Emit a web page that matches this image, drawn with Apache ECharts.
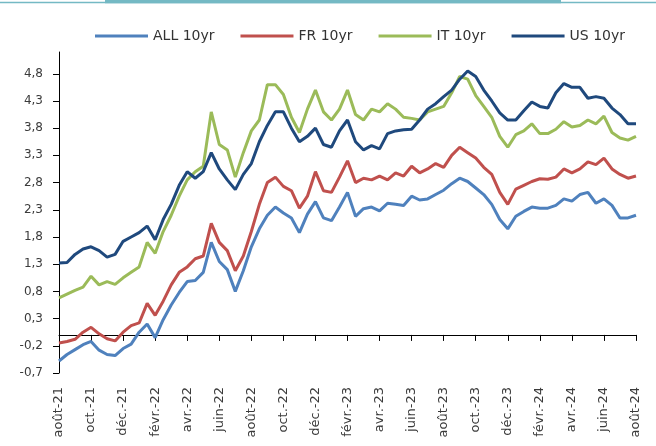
<!DOCTYPE html>
<html>
<head>
<meta charset="utf-8">
<script src="https://cdn.jsdelivr.net/npm/echarts@6/dist/echarts.min.js"></script>
<style>
  html, body { margin: 0; padding: 0; background: #fff; }
  #chart { width: 656px; height: 446px; }
</style>
</head>
<body>
<div id="chart"></div>
<script>
// tick labels of the date axis, one every 2 months from août-21
const monthLabels = ["août-21", "oct.-21", "déc.-21", "févr.-22", "avr.-22", "juin-22", "août-22",
  "oct.-22", "déc.-22", "févr.-23", "avr.-23", "juin-23", "août-23", "oct.-23", "déc.-23",
  "févr.-24", "avr.-24", "juin-24", "août-24"];
const yTicks = [-0.7, -0.2, 0.3, 0.8, 1.3, 1.8, 2.3, 2.8, 3.3, 3.8, 4.3, 4.8];

// readings every half month, from early Aug 2021 to early Aug 2024
const step = 0.5;
const all10 = [-0.48, -0.36, -0.27, -0.18, -0.12, -0.28, -0.36, -0.38, -0.25, -0.17,
  0.05, 0.20, -0.05, 0.28, 0.55, 0.78, 0.98, 1.00, 1.15, 1.70,
  1.35, 1.20, 0.80, 1.18, 1.62, 1.95, 2.20, 2.35, 2.24, 2.15,
  1.88, 2.22, 2.45, 2.15, 2.10, 2.35, 2.62, 2.18, 2.32, 2.35,
  2.28, 2.42, 2.40, 2.38, 2.55, 2.48, 2.50, 2.58, 2.66, 2.78,
  2.88, 2.82, 2.70, 2.58, 2.40, 2.12, 1.95, 2.18, 2.27, 2.35,
  2.33, 2.33, 2.38, 2.50, 2.46, 2.58, 2.62, 2.42, 2.50, 2.38,
  2.15, 2.15, 2.20];
const fr10 = [-0.15, -0.12, -0.08, 0.05, 0.14, 0.02, -0.07, -0.11, 0.05, 0.17,
  0.22, 0.58, 0.36, 0.62, 0.92, 1.15, 1.25, 1.40, 1.45, 2.05,
  1.70, 1.55, 1.18, 1.45, 1.90, 2.40, 2.80, 2.90, 2.73, 2.65,
  2.33, 2.55, 3.00, 2.65, 2.62, 2.90, 3.20, 2.80, 2.88, 2.85,
  2.92, 2.85, 2.98, 2.92, 3.10, 2.98, 3.05, 3.15, 3.08, 3.30,
  3.45, 3.35, 3.25, 3.08, 2.95, 2.62, 2.40, 2.68, 2.75, 2.82,
  2.87, 2.86, 2.90, 3.05, 2.98, 3.05, 3.18, 3.13, 3.25, 3.05,
  2.95, 2.88, 2.92];
const it10 = [0.68, 0.75, 0.82, 0.88, 1.08, 0.92, 0.98, 0.93, 1.05, 1.15,
  1.25, 1.70, 1.50, 1.90, 2.20, 2.55, 2.85, 3.00, 3.10, 4.10,
  3.50, 3.40, 2.90, 3.35, 3.75, 3.95, 4.60, 4.60, 4.42, 4.00,
  3.72, 4.15, 4.50, 4.10, 3.95, 4.15, 4.50, 4.05, 3.95, 4.15,
  4.10, 4.25, 4.15, 4.00, 3.98, 3.95, 4.10, 4.15, 4.20, 4.45,
  4.75, 4.70, 4.40, 4.20, 4.00, 3.65, 3.45, 3.68, 3.75, 3.88,
  3.70, 3.70, 3.78, 3.92, 3.82, 3.85, 3.95, 3.88, 4.02, 3.72,
  3.62, 3.58, 3.65];
const us10 = [1.32, 1.33, 1.48, 1.58, 1.62, 1.55, 1.43, 1.48, 1.72, 1.80,
  1.88, 2.00, 1.75, 2.12, 2.40, 2.75, 3.00, 2.88, 3.00, 3.35,
  3.05, 2.85, 2.67, 2.95, 3.15, 3.55, 3.85, 4.10, 4.10, 3.80,
  3.55, 3.65, 3.80, 3.50, 3.45, 3.75, 3.95, 3.55, 3.40, 3.48,
  3.42, 3.70, 3.75, 3.77, 3.78, 3.95, 4.15, 4.25, 4.38, 4.50,
  4.70, 4.85, 4.75, 4.50, 4.30, 4.08, 3.95, 3.95, 4.12, 4.28,
  4.20, 4.17, 4.45, 4.62, 4.55, 4.55, 4.35, 4.38, 4.35, 4.17,
  4.05, 3.88, 3.88];

function toPoints(values) {
  return values.map((v, i) => [i * step, v]);
}

const font = "DejaVu Sans";
const labelColor = "#3b3b3b";

const chart = echarts.init(document.getElementById("chart"));

function line(name, values, color) {
  return {
    name: name,
    type: "line",
    data: toPoints(values),
    showSymbol: false,
    symbol: "none",
    lineStyle: { width: 3, color: color },
    itemStyle: { color: color },
  };
}

const option = {
  animation: false,
  graphic: [
    { type: "rect", shape: { x: 0, y: 1.7, width: 656, height: 1.6 }, style: { fill: "#74b9c4" } },
    { type: "rect", shape: { x: 105, y: 0, width: 456, height: 3.3 }, style: { fill: "#74b9c4" } },
  ],
  legend: {
    top: 24,
    left: 90,
    icon: "rect",
    itemWidth: 53,
    itemHeight: 3,
    itemGap: 26,
    textStyle: { fontFamily: font, fontSize: 14, color: "#333" },
    data: ["ALL 10yr", "FR 10yr", "IT 10yr", "US 10yr"],
  },
  grid: { left: 59, right: 20, top: 52, bottom: 73, outerBoundsMode: "none" },
  xAxis: {
    // line and ticks sit on the zero line, labels stay at the bottom of the grid
    type: "value",
    min: 0,
    max: 36,
    interval: 2,
    axisLine: { show: true, onZero: true, lineStyle: { color: "#000", width: 1 } },
    axisTick: { show: true, length: 6, lineStyle: { color: "#000", width: 1 } },
    splitLine: { show: false },
    axisLabel: {
      rotate: 90,
      margin: 14,
      fontFamily: font,
      fontSize: 13,
      color: labelColor,
      formatter: (v) => monthLabels[Math.round(v / 2)] || "",
    },
  },
  yAxis: {
    type: "value",
    min: -0.7,
    max: 5.2,
    axisLine: { show: true, lineStyle: { color: "#000", width: 1 } },
    axisTick: { show: true, length: 6, customValues: yTicks, lineStyle: { color: "#000", width: 1 } },
    splitLine: { show: false },
    axisLabel: {
      customValues: yTicks,
      margin: 16,
      fontFamily: font,
      fontSize: 12,
      color: labelColor,
      formatter: (v) => v.toFixed(1).replace(".", ","),
    },
  },
  series: [
    line("ALL 10yr", all10, "#4f81bd"),
    line("FR 10yr", fr10, "#c0504d"),
    line("IT 10yr", it10, "#9bbb59"),
    line("US 10yr", us10, "#1f497d"),
  ],
};

chart.setOption(option);
</script>
</body>
</html>
